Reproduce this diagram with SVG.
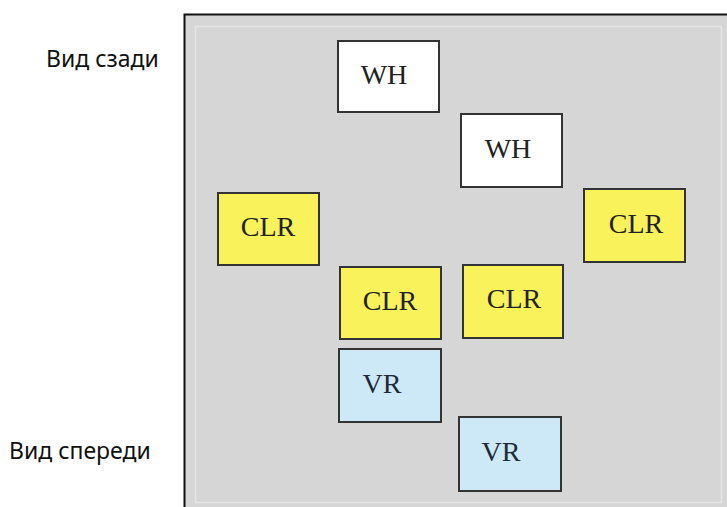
<svg xmlns="http://www.w3.org/2000/svg" width="727" height="507" viewBox="0 0 727 507">
<style>
.lbl{font-family:"Noto Sans","Open Sans",sans-serif;font-size:23px;fill:#111}
.box{stroke:#333;stroke-width:2}
.wh{fill:#ffffff}
.clr{fill:#faf25a}
.vr{fill:#cde9f8}
.t{font-family:"Liberation Serif","Times New Roman",serif;font-size:28px;text-anchor:middle;fill:#222}
.tv{fill:#1c2a3c}
</style>
<rect x="0" y="0" width="727" height="507" fill="#ffffff"/>
<text class="lbl" x="46" y="67">Вид сзади</text>
<text class="lbl" x="9" y="459">Вид спереди</text>
<g id="frame">
<rect x="184" y="14" width="543" height="493" fill="#d6d6d6"/>
<path d="M184.5 507V14.5H727" fill="none" stroke="#111" stroke-width="2"/>
<rect x="195.5" y="26.5" width="526" height="476" fill="none" stroke="#e6e6e6" stroke-width="1.5"/>
</g>
<g id="connectors"></g>
<g id="wh1"><rect class="box wh" x="338" y="41" width="101" height="71"/><text class="t" x="384" y="84">WH</text></g>
<g id="wh2"><rect class="box wh" x="461" y="114" width="101" height="73"/><text class="t" x="508" y="158">WH</text></g>
<g id="clr1"><rect class="box clr" x="218" y="193" width="101" height="72"/><text class="t" x="268" y="236">CLR</text></g>
<g id="clr2"><rect class="box clr" x="584" y="189" width="101" height="73"/><text class="t" x="636" y="233">CLR</text></g>
<g id="clr3"><rect class="box clr" x="340" y="267" width="101" height="72"/><text class="t" x="390" y="310">CLR</text></g>
<g id="clr4"><rect class="box clr" x="463" y="265" width="100" height="73"/><text class="t" x="514" y="308">CLR</text></g>
<g id="vr1"><rect class="box vr" x="339" y="349" width="102" height="73"/><text class="t tv" x="382" y="393">VR</text></g>
<g id="vr2"><rect class="box vr" x="459" y="417" width="102" height="74"/><text class="t tv" x="501" y="461">VR</text></g>
</svg>
